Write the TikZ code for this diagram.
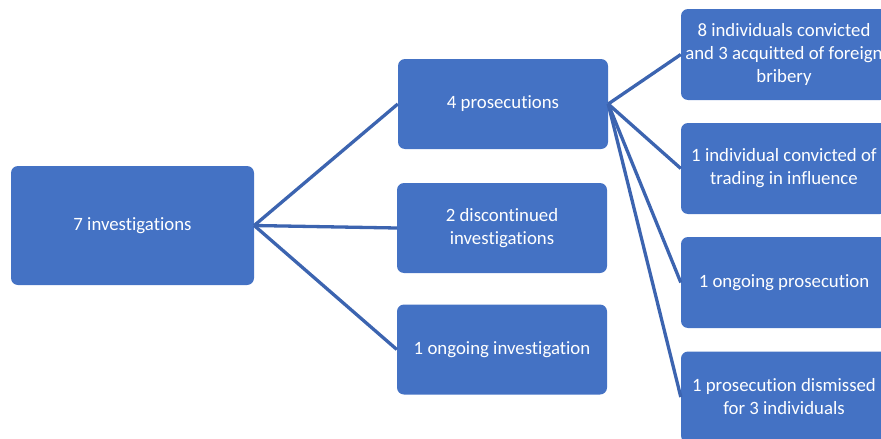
\documentclass[tikz,border=0pt]{standalone}
\usepackage{fontspec}
\setmainfont[Ligatures=NoCommon]{Carlito}
\usepackage{tikz}
\usetikzlibrary{positioning}
\definecolor{boxblue}{HTML}{4472C4}
\definecolor{lineblue}{HTML}{3C64B0}

\begin{document}
\begin{tikzpicture}
  [x=1pt,y=-1pt,every node/.style={rectangle, rounded corners=7pt, fill=boxblue, text=white, align=center, inner sep=0pt, font=\fontsize{18.8}{23}\selectfont},
   mid/.style={minimum width=210pt, minimum height=90pt},
   leaf/.style={minimum width=206pt, minimum height=91pt}]
  \useasboundingbox (0,0) rectangle (881,439);
  \clip (0,0) rectangle (881,439);

  \node [minimum width=243pt, minimum height=119pt] (I) at (132.5,225.5) {7 investigations};

  \node [mid] (P) at (503,104) {4 prosecutions};
  \node [mid] (D) at (502,228) {2 discontinued\\investigations};
  \node [mid] (O) at (502,349.5) {1 ongoing investigation};

  \node [leaf] (P1) at (784,54.5) {8 individuals convicted\\and 3 acquitted of foreign\\bribery};
  \node [leaf] (P2) at (784,168.5) {1 individual convicted of\\trading in influence};
  \node [leaf] (P3) at (784,282.5) {1 ongoing prosecution};
  \node [leaf] (P4) at (784,397) {1 prosecution dismissed\\for 3 individuals};

  \path [-] [draw=lineblue, line width=3.3pt]
  (I.east) edge (P.west)
  (I.east) edge (D.west)
  (I.east) edge (O.west)

  (P.east) edge (P1.west)
  (P.east) edge (P2.west)
  (P.east) edge (P3.west)
  (P.east) edge (P4.west);

\end{tikzpicture}
\end{document}
